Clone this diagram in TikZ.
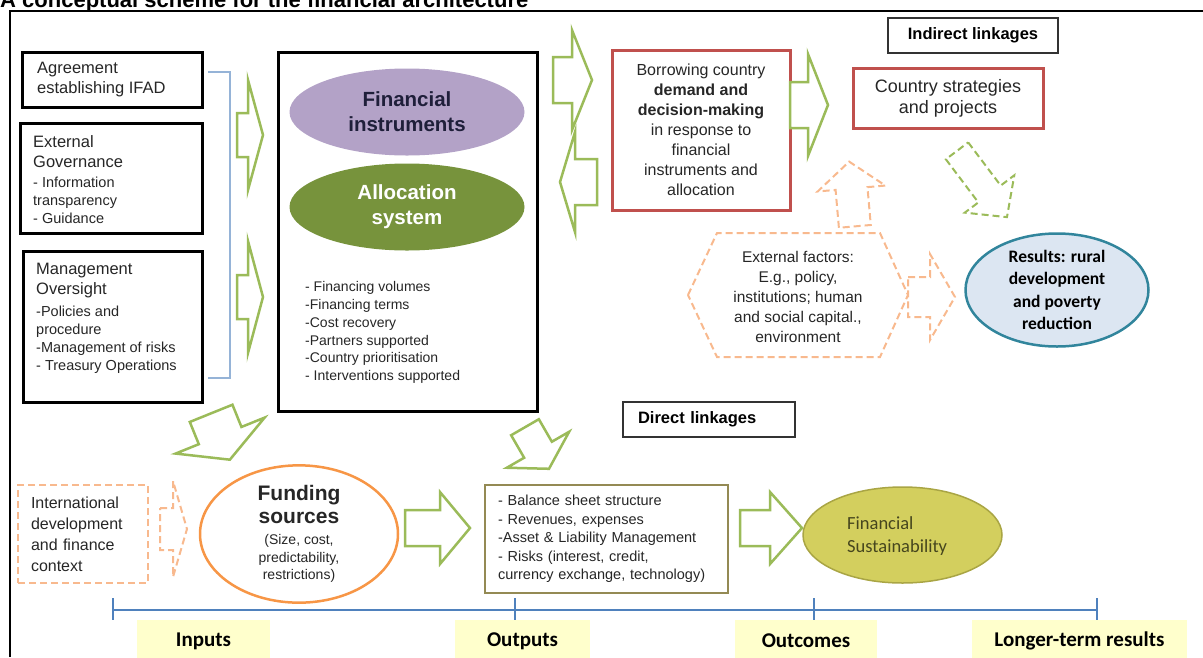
\documentclass[tikz,border=0pt]{standalone}
\usepackage{fontspec}
\setmainfont{Liberation Sans}
\newfontfamily\calib{Carlito}
\usetikzlibrary{shapes.geometric}

\definecolor{arrgreen}{HTML}{9BBB59}
\definecolor{arrorange}{HTML}{F8B98E}
\definecolor{boxred}{HTML}{C0504D}
\definecolor{instpurple}{HTML}{B3A2C7}
\definecolor{insttext}{HTML}{1F1F3A}
\definecolor{allocgreen}{HTML}{77933C}
\definecolor{resblue}{HTML}{DCE6F2}
\definecolor{resedge}{HTML}{31859C}
\definecolor{fundorange}{HTML}{F79646}
\definecolor{outedge}{HTML}{948A54}
\definecolor{sustfill}{HTML}{D3CF5E}
\definecolor{sustedge}{HTML}{A9A544}
\definecolor{sustext}{HTML}{46461E}
\definecolor{lineblue}{HTML}{4F81BD}
\definecolor{brackblue}{HTML}{95B3D7}
\definecolor{labyellow}{HTML}{FFFFCC}

% block arrow: style, centre, rotation, length, shaft half width, head half width, head length
\newcommand{\blockarr}[7]{%
  \begin{scope}[shift={#2}, rotate=#3]
    \pgfmathsetmacro\arrtail{-#4/2}
    \pgfmathsetmacro\arrtip{#4/2}
    \pgfmathsetmacro\arrneck{#4/2-#7}
    \draw[#1] (\arrtail,-#5) -- (\arrneck,-#5) -- (\arrneck,-#6) -- (\arrtip,0)
      -- (\arrneck,#6) -- (\arrneck,#5) -- (\arrtail,#5) -- cycle;
  \end{scope}}

\tikzset{
  blackbox/.style={draw=black, line width=3pt},
  redbox/.style={draw=boxred, line width=3pt, text=black!85},
  linkbox/.style={draw=black!80, line width=2pt, font=\bfseries\fontsize{16.5}{20}\selectfont},
  txt/.style={anchor=west, align=left, inner sep=0pt, text=black!85},
  grarrow/.style={draw=arrgreen, line width=2.5pt, fill=white},
  orarrow/.style={draw=arrorange, line width=2pt, dash pattern=on 7pt off 4pt, fill=white},
  gdarrow/.style={draw=arrgreen, line width=2pt, dash pattern=on 7pt off 4pt, fill=white},
  phase/.style={fill=labyellow, minimum height=42pt, inner sep=0pt,
    font=\calib\bfseries\fontsize{21}{24}\selectfont}
}

\begin{document}
\begin{tikzpicture}[x=1pt, y=-1pt, line join=miter]
\useasboundingbox (0,0) rectangle (1203,657);
\node[anchor=base west, inner sep=0pt, font=\bfseries\fontsize{22}{26}\selectfont] (title) at (0,7.5)
  {A conceptual scheme for the financial architecture};
\draw[line width=1.5pt] (10,657) -- (10,11) -- (1203,11);

% inputs
\node[blackbox, minimum width=180pt, minimum height=55pt] (agree) at (112,79.5) {};
\node[txt, font=\fontsize{16.5}{20}\selectfont] at (37,80) {Agreement\\establishing IFAD};
\node[blackbox, minimum width=182pt, minimum height=110pt] (extgov) at (111,178) {};
\node[txt, font=\fontsize{14.5}{18}\selectfont] at (33,180)
  {{\fontsize{16.5}{20}\selectfont External}\\[2pt]{\fontsize{16.5}{20}\selectfont Governance}\\[2pt]
   - Information\\transparency\\- Guidance};
\node[blackbox, minimum width=179pt, minimum height=151pt] (mgmt) at (112.5,326.5) {};
\node[txt, font=\fontsize{14.5}{18}\selectfont] at (36,318.5)
  {{\fontsize{16.5}{20}\selectfont Management}\\[2pt]{\fontsize{16.5}{20}\selectfont Oversight}\\[4pt]
   -Policies and\\procedure\\-Management of risks\\- Treasury Operations};
\draw[brackblue, line width=1.5pt] (208,72) -- (230,72) -- (230,378) -- (208,378);

% financial architecture
\node[blackbox, minimum width=259pt, minimum height=359pt] (core) at (407.5,231.5) {};
\node[ellipse, fill=instpurple, minimum width=235pt, minimum height=87pt, inner sep=0pt, align=center,
  text=insttext, font=\bfseries\fontsize{20.5}{25}\selectfont] (instr) at (407,112) {Financial\\instruments};
\node[ellipse, fill=allocgreen, minimum width=235pt, minimum height=87pt, inner sep=0pt, align=center,
  text=white, font=\bfseries\fontsize{20.5}{25}\selectfont] (alloc) at (407,207) {Allocation\\system};
\node[txt, font=\fontsize{14}{17.8}\selectfont] (terms) at (305,332.5)
  {- Financing volumes\\-Financing terms\\-Cost recovery\\-Partners supported\\-Country prioritisation\\- Interventions supported};

% indirect linkages
\node[redbox, minimum width=178pt, minimum height=160pt, align=center, font=\fontsize{16}{20}\selectfont] (borrow) at (701,130)
  {Borrowing country\\\textbf{demand and}\\\textbf{decision-making}\\in response to\\financial\\instruments and\\allocation};
\node[linkbox, minimum width=170pt, minimum height=35pt] (indir) at (973,35.5) {Indirect linkages};
\node[redbox, minimum width=190pt, minimum height=60pt, align=center, font=\fontsize{18}{21}\selectfont] (strat) at (948,98)
  {Country strategies\\and projects};
\draw[draw=arrorange, line width=2pt, dash pattern=on 7pt off 4pt] (688,295) -- (717,233) -- (880,233) -- (908,295)
  -- (880,357) -- (717,357) -- cycle;
\node[align=center, text=black!85, font=\fontsize{15.5}{20}\selectfont] (extf) at (798,297)
  {External factors:\\E.g., policy,\\institutions; human\\and social capital.,\\environment};
\node[ellipse, draw=resedge, fill=resblue, line width=2.5pt, minimum width=183pt, minimum height=110pt, inner sep=0pt,
  align=center, font=\calib\bfseries\fontsize{17.5}{22.5}\selectfont] (result) at (1057,290)
  {Results: rural\\development\\and poverty\\reduction};

% direct linkages
\node[linkbox, minimum width=172pt, minimum height=35pt, text width=142pt, inner xsep=15pt, align=left] (direct) at (709,419.5)
  {Direct linkages};
\node[draw=arrorange, line width=2pt, dash pattern=on 7pt off 4pt, minimum width=130pt, minimum height=98pt,
  text width=104pt, inner xsep=13pt, align=left, text=black!85, font=\fontsize{16}{21}\selectfont] (intl) at (83,534)
  {International\\development\\and finance\\context};
\node[ellipse, draw=fundorange, fill=white, line width=2.5pt, minimum width=198pt, minimum height=133pt, inner sep=0pt,
  align=center, text=black!85, font=\fontsize{14}{17.5}\selectfont] (fund) at (299,534)
  {{\bfseries\fontsize{21}{23}\selectfont Funding}\\[5pt]{\bfseries\fontsize{21}{23}\selectfont sources}\\[4pt]
   (Size, cost,\\predictability,\\restrictions)};
\node[draw=outedge, line width=2.5pt, minimum width=243pt, minimum height=108pt, text width=217pt, inner xsep=13pt,
  align=left, text=black!85, font=\fontsize{14.5}{18.5}\selectfont] (outbox) at (606.5,539)
  {- Balance sheet structure\\- Revenues, expenses\\-Asset \& Liability Management\\- Risks (interest, credit,\\currency exchange, technology)};
\node[ellipse, draw=sustedge, fill=sustfill, line width=1.5pt, minimum width=199pt, minimum height=96pt, inner sep=0pt] (sust) at (902.5,535) {};
\node[txt, text=sustext, font=\calib\fontsize{18.5}{23}\selectfont] at (847,536.5) {Financial\\Sustainability};

% block arrows
\foreach \cx/\cy/\ang/\len/\sw/\ahw/\ahl in {250/135/0/26/22/55/15, 250/297/0/26/22/56/15, 572.5/80/0/39/23/50/20,
    578.5/182/180/37/23/50/15, 809/105/0/38/23/51/20, 437.5/528/0/65/18/36/30, 771/528/0/62/18/36/32,
    220.5/436.5/-68/50/23/48/26, 537/448/-60/48/16/36/22}
  \blockarr{grarrow}{(\cx,\cy)}{\ang}{\len}{\sw}{\ahw}{\ahl};
\foreach \cx/\cy/\ang/\len/\sw/\ahw/\ahl in {931.5/297/0/47/20/43/25, 173.5/529/0/27/21/48/14, 852/194/95/65/16/34/27}
  \blockarr{orarrow}{(\cx,\cy)}{\ang}{\len}{\sw}{\ahw}{\ahl};
\blockarr{gdarrow}{(982,184)}{-53}{83}{14}{31}{29}

% time line
\coordinate (t1) at (113,610);
\coordinate (t2) at (515,610);
\coordinate (t3) at (814,610);
\coordinate (t4) at (1097,610);
\draw[lineblue, line width=2pt] (t1) -- (t4);
\foreach \t in {t1,t2,t3,t4}
  \draw[lineblue, line width=1.5pt] ([yshift=12pt]\t) -- ([yshift=-10pt]\t);
\node[phase, minimum width=133pt] (inputs) at (203.5,641) {Inputs};
\node[phase, minimum width=135pt] (outputs) at (522.5,641) {Outputs};
\node[phase, minimum width=142pt] (outcomes) at (806,641) {Outcomes};
\node[phase, minimum width=215pt] (longer) at (1079.5,641) {Longer-term results};
\end{tikzpicture}
\end{document}
